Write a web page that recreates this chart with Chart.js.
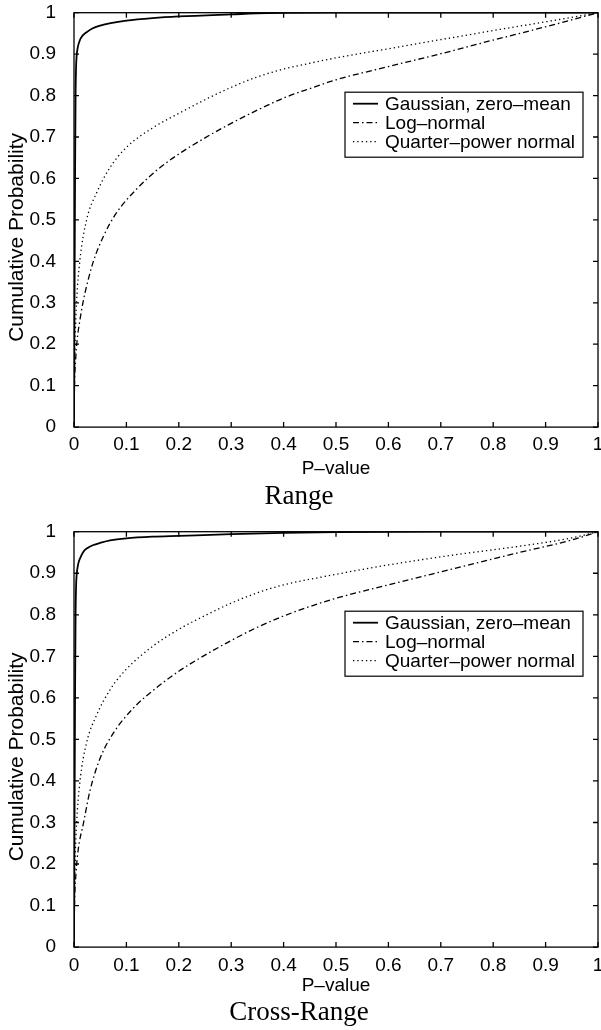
<!DOCTYPE html>
<html>
<head>
<meta charset="utf-8">
<title>P-value CDFs</title>
<script src="https://cdn.jsdelivr.net/npm/chart.js@4.4.1/dist/chart.umd.min.js"></script>
<style>
  html, body { margin: 0; padding: 0; background: #fff; }
  .panel { width: 601px; height: 515px; }
</style>
</head>
<body>
<div class="panel"><canvas id="rangeChart" width="601" height="515"></canvas></div>
<div class="panel"><canvas id="crossChart" width="601" height="515"></canvas></div>
<script>
// series names (MATLAB style dashes)
var seriesNames = ['Gaussian, zero\u2013mean', 'Log\u2013normal', 'Quarter\u2013power normal'];
var xTitle = 'P\u2013value';
// trailing spaces push the rotated label a bit down, like the original
var yTitle = 'Cumulative Probability      ';
var panelTitles = ['Range', 'Cross-Range'];

// ---- Range panel ----
var rangeGaussP   = [0, 0.001, 0.002, 0.003, 0.004, 0.005, 0.007, 0.011, 0.016, 0.024, 0.035, 0.05, 0.07, 0.1, 0.15, 0.2, 0.3, 0.37, 0.5, 0.7, 1];
var rangeGaussCdf = [0, 0.3, 0.6, 0.8, 0.87, 0.895, 0.915, 0.933, 0.944, 0.953, 0.962, 0.969, 0.975, 0.981, 0.987, 0.991, 0.996, 0.999, 1, 1, 1];

var rangeLogP   = [0, 0.001, 0.003, 0.006, 0.011, 0.017, 0.024, 0.037, 0.056, 0.08, 0.12, 0.16, 0.2, 0.25, 0.3, 0.35, 0.4, 0.45, 0.5, 0.6, 0.7, 0.8, 0.9, 1];
var rangeLogCdf = [0, 0.1, 0.16, 0.21, 0.256, 0.3, 0.34, 0.40, 0.46, 0.515, 0.575, 0.622, 0.659, 0.698, 0.733, 0.765, 0.794, 0.817, 0.838, 0.870, 0.901, 0.934, 0.966, 1];

var rangeQuarterP   = [0, 0.001, 0.002, 0.005, 0.011, 0.024, 0.043, 0.069, 0.1, 0.15, 0.2, 0.25, 0.3, 0.35, 0.4, 0.45, 0.5, 0.6, 0.7, 0.8, 0.9, 1];
var rangeQuarterCdf = [0, 0.12, 0.2, 0.304, 0.40, 0.50, 0.565, 0.627, 0.675, 0.722, 0.757, 0.79, 0.82, 0.845, 0.864, 0.878, 0.891, 0.913, 0.935, 0.957, 0.978, 1];

// ---- Cross-Range panel ----
var crossGaussP   = [0, 0.001, 0.002, 0.003, 0.004, 0.005, 0.008, 0.012, 0.018, 0.026, 0.037, 0.05, 0.069, 0.1, 0.15, 0.2, 0.3, 0.4, 0.5, 0.7, 1];
var crossGaussCdf = [0, 0.3, 0.6, 0.8, 0.87, 0.895, 0.922, 0.937, 0.952, 0.961, 0.968, 0.973, 0.979, 0.984, 0.988, 0.99, 0.994, 0.997, 0.999, 1, 1];

var crossLogP   = [0, 0.001, 0.004, 0.008, 0.018, 0.031, 0.05, 0.075, 0.113, 0.158, 0.2, 0.25, 0.3, 0.35, 0.4, 0.49, 0.6, 0.725, 0.85, 0.95, 1];
var crossLogCdf = [0, 0.1, 0.18, 0.234, 0.298, 0.379, 0.455, 0.515, 0.575, 0.625, 0.664, 0.703, 0.738, 0.77, 0.797, 0.836, 0.872, 0.911, 0.95, 0.98, 1];

var crossQuarterP   = [0, 0.001, 0.002, 0.005, 0.011, 0.024, 0.043, 0.069, 0.1, 0.15, 0.2, 0.25, 0.3, 0.35, 0.4, 0.49, 0.6, 0.725, 0.85, 0.95, 1];
var crossQuarterCdf = [0, 0.12, 0.2, 0.298, 0.395, 0.492, 0.558, 0.62, 0.669, 0.724, 0.765, 0.798, 0.828, 0.853, 0.872, 0.895, 0.92, 0.944, 0.965, 0.985, 1];

var sansFont = 'Liberation Sans, Helvetica, Arial, sans-serif';
var serifFont = 'Liberation Serif, Times New Roman, serif';

function toPoints(xs, ys) {
  var pts = [];
  for (var i = 0; i < xs.length; i++) pts.push({ x: xs[i], y: ys[i] });
  return pts;
}

// 0, 0.1 ... 0.9, 1 like the original axes
function tickLabel(v) {
  return String(Math.round(v * 10) / 10);
}

// MATLAB-like box with inward ticks on all four sides
var frameTicks = {
  id: 'frameTicks',
  afterDatasetsDraw: function(chart) {
    var a = chart.chartArea, ctx = chart.ctx;
    var xs = chart.scales.x, ys = chart.scales.y, len = 5;
    ctx.save();
    ctx.strokeStyle = '#000';
    ctx.lineWidth = 1.3;
    ctx.strokeRect(a.left, a.top, a.right - a.left, a.bottom - a.top);
    ctx.beginPath();
    xs.ticks.forEach(function(t) {
      var px = xs.getPixelForValue(t.value);
      ctx.moveTo(px, a.bottom); ctx.lineTo(px, a.bottom - len);
      ctx.moveTo(px, a.top); ctx.lineTo(px, a.top + len);
    });
    ys.ticks.forEach(function(t) {
      var py = ys.getPixelForValue(t.value);
      ctx.moveTo(a.left, py); ctx.lineTo(a.left + len, py);
      ctx.moveTo(a.right, py); ctx.lineTo(a.right - len, py);
    });
    ctx.stroke();
    ctx.restore();
  }
};

// boxed legend inside the axes, upper right
var boxLegend = {
  id: 'boxLegend',
  afterDraw: function(chart, args, opts) {
    var a = chart.chartArea, ctx = chart.ctx;
    var left = a.right - opts.right - opts.width, top = a.top + opts.top;
    ctx.save();
    ctx.fillStyle = '#fff';
    ctx.fillRect(left, top, opts.width, opts.height);
    ctx.strokeStyle = '#000';
    ctx.lineWidth = 1.2;
    ctx.strokeRect(left, top, opts.width, opts.height);
    ctx.font = '19px ' + sansFont;
    ctx.textBaseline = 'middle';
    ctx.fillStyle = '#000';
    chart.data.datasets.forEach(function(ds, i) {
      var y = top + opts.rowTop + i * opts.rowGap;
      ctx.beginPath();
      ctx.setLineDash(ds.borderDash || []);
      ctx.lineWidth = ds.borderWidth;
      ctx.moveTo(left + 8, y);
      ctx.lineTo(left + 33, y);
      ctx.stroke();
      ctx.setLineDash([]);
      ctx.fillText(ds.label, left + 40, y + 1);
    });
    ctx.restore();
  }
};

function makeChart(id, title, series, lay) {
  var styles = [
    { borderWidth: 1.8, borderDash: [] },
    { borderWidth: 1.3, borderDash: [6, 3, 1.5, 3] },
    { borderWidth: 1.3, borderDash: [1.3, 3] }
  ];
  var datasets = series.map(function(s, i) {
    return {
      label: seriesNames[i],
      data: toPoints(s[0], s[1]),
      showLine: true,
      borderColor: '#000',
      backgroundColor: '#000',
      borderWidth: styles[i].borderWidth,
      borderDash: styles[i].borderDash,
      pointRadius: 0,
      cubicInterpolationMode: 'monotone'
    };
  });
  return new Chart(document.getElementById(id), {
    type: 'scatter',
    data: { datasets: datasets },
    plugins: [frameTicks, boxLegend],
    options: {
      responsive: false,
      animation: false,
      layout: { padding: { top: lay.top, right: 3, left: 0, bottom: 0 } },
      plugins: {
        legend: { display: false },
        tooltip: { enabled: false },
        title: {
          display: true, text: title, position: 'bottom', color: '#000',
          font: { family: serifFont, size: 27, weight: 'normal', lineHeight: 1.2 },
          padding: { top: 0, bottom: lay.titlePad }
        },
        boxLegend: { right: 15, top: 79.5, width: 238, height: 65, rowTop: 11.5, rowGap: 19 }
      },
      scales: {
        x: {
          type: 'linear', min: 0, max: 1,
          grid: { display: false }, border: { display: false },
          ticks: { stepSize: 0.1, color: '#000', padding: lay.tickPad, maxRotation: 0, autoSkip: false,
                   callback: tickLabel, font: { family: sansFont, size: 19, lineHeight: 1 } },
          title: { display: true, text: xTitle, color: '#000', padding: { top: 0, bottom: lay.xTitlePad },
                   font: { family: sansFont, size: 19, lineHeight: 1.2 } },
          afterFit: function(s) { s.height = lay.xHeight; s.paddingLeft = 0; s.paddingRight = 0; }
        },
        y: {
          type: 'linear', min: 0, max: 1,
          grid: { display: false }, border: { display: false },
          ticks: { stepSize: 0.1, color: '#000', padding: 10,
                   callback: tickLabel, font: { family: sansFont, size: 19, lineHeight: 1 } },
          title: { display: true, text: yTitle, color: '#000', padding: { top: 7, bottom: 0 },
                   font: { family: sansFont, size: 21, lineHeight: 1 } },
          afterFit: function(s) { s.width = 74; s.paddingTop = 0; s.paddingBottom = 0; }
        }
      }
    }
  });
}

makeChart('rangeChart', panelTitles[0],
  [[rangeGaussP, rangeGaussCdf], [rangeLogP, rangeLogCdf], [rangeQuarterP, rangeQuarterCdf]],
  { top: 12.7, titlePad: 1.5, xHeight: 54, tickPad: 0.5, xTitlePad: 1.4 });

makeChart('crossChart', panelTitles[1],
  [[crossGaussP, crossGaussCdf], [crossLogP, crossLogCdf], [crossQuarterP, crossQuarterCdf]],
  { top: 16.7, titlePad: 0.5, xHeight: 50, tickPad: 1.5, xTitlePad: 0 });
</script>
</body>
</html>
